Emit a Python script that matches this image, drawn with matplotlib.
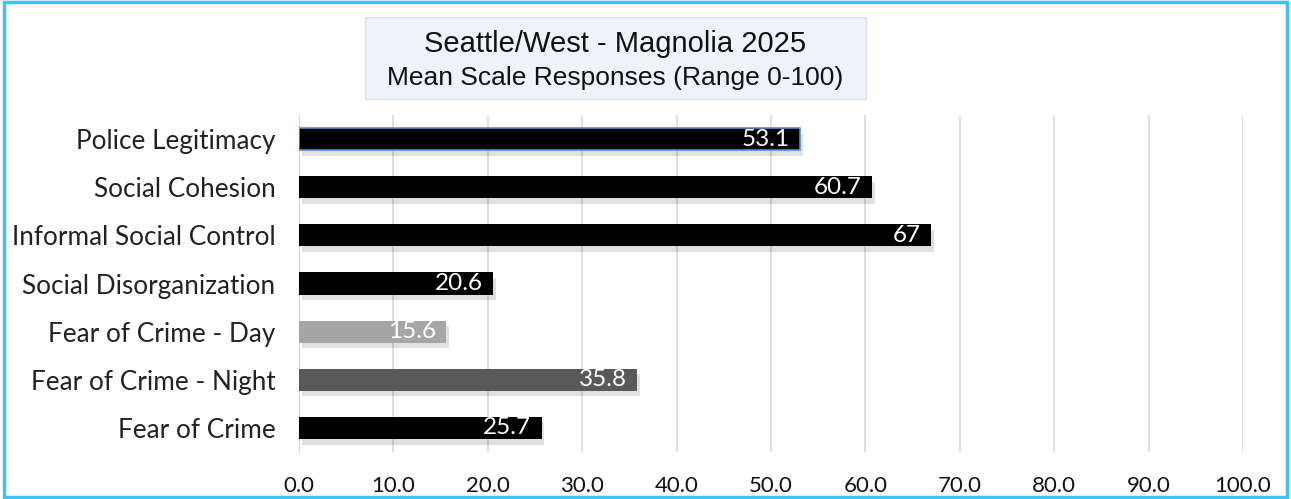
import matplotlib.pyplot as plt
import matplotlib.patheffects as pe
from matplotlib.patches import Rectangle

# Data
categories = ['Police Legitimacy', 'Social Cohesion', 'Informal Social Control',
              'Social Disorganization', 'Fear of Crime - Day', 'Fear of Crime - Night',
              'Fear of Crime']
values = [53.1, 60.7, 67, 20.6, 15.6, 35.8, 25.7]
value_labels = ['53.1', '60.7', '67', '20.6', '15.6', '35.8', '25.7']
bar_colors = ['#000000', '#000000', '#000000', '#000000', '#a6a6a6', '#595959', '#000000']
ticks = [0, 10, 20, 30, 40, 50, 60, 70, 80, 90, 100]

fig = plt.figure(figsize=(12.91, 4.99), dpi=100)
ax = fig.add_axes([0.2316, 0.0942, 0.7312, 0.6753])

ypos = list(range(len(categories)))
shadow = [pe.SimplePatchShadow(offset=(2, -4), shadow_rgbFace='#000000', alpha=0.12), pe.Normal()]
bars = ax.barh(ypos, values, height=0.46, color=bar_colors, zorder=3)
for b in bars:
    b.set_path_effects(shadow)
bars[0].set_edgecolor('#5b8bd6')
bars[0].set_linewidth(1.2)

for y, v, lab in zip(ypos, values, value_labels):
    ax.text(v - 1.1, y, lab, color='white', ha='right', va='center',
            fontsize=17.5, family='Lato', zorder=4)

ax.set_xlim(0, 100)
ax.set_ylim(len(categories) - 0.5, -0.5)
ax.set_xticks(ticks)
ax.set_xticklabels(['%.1f' % t for t in ticks], fontsize=16, family='Lato', color='#111111')
ax.set_yticks(ypos)
ax.set_yticklabels(categories, fontsize=18.8, family='Lato', color='#222222')
ax.tick_params(axis='x', length=0, pad=17)
ax.tick_params(axis='y', length=0, pad=17)
ax.grid(axis='x', color='#d9d9d9', linewidth=1.2, zorder=0)
for s in ['top', 'right', 'bottom']:
    ax.spines[s].set_visible(False)
ax.spines['left'].set_color('#c9d6ee')

# title box
fig.patches.append(Rectangle((365 / 1291, 1 - 99 / 499), 501 / 1291, 82 / 499,
                             transform=fig.transFigure, facecolor='#eef2f9',
                             edgecolor='#dfe4ec', linewidth=1))
fig.text(615 / 1291, 1 - 44 / 499, 'Seattle/West - Magnolia 2025', ha='center', va='center',
         fontsize=21, family='Liberation Sans', color='#111111')
fig.text(615 / 1291, 1 - 78 / 499, 'Mean Scale Responses (Range 0-100)', ha='center', va='center',
         fontsize=19, family='Liberation Sans', color='#111111')

# outer border
fig.patches.append(Rectangle((0.003, 0.005), 0.994, 0.99, transform=fig.transFigure,
                             fill=False, edgecolor='#3ec3f5', linewidth=2.5))

fig.savefig('out.png', dpi=100)
